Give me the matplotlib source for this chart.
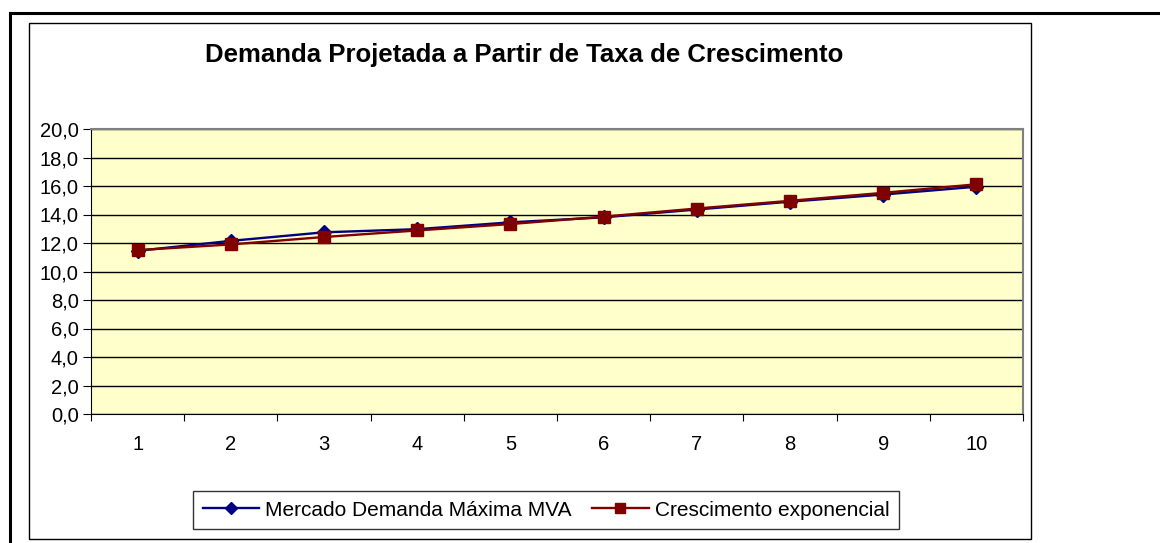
import matplotlib.pyplot as plt
from matplotlib.patches import Rectangle
from matplotlib.lines import Line2D

plt.rcParams['font.family'] = ['Liberation Sans', 'DejaVu Sans']

# data
periodos = [1, 2, 3, 4, 5, 6, 7, 8, 9, 10]
mercado_mva = [11.45, 12.15, 12.75, 12.97, 13.45, 13.8, 14.35, 14.9, 15.4, 15.95]
cresc_exp = [11.5, 11.9, 12.42, 12.88, 13.33, 13.85, 14.42, 14.96, 15.52, 16.12]
y_ticks = [0, 2, 4, 6, 8, 10, 12, 14, 16, 18, 20]

W, H = 1160, 543
fig = plt.figure(figsize=(W / 100, H / 100), dpi=100)

# outer frame (thick) and chart area frame
fig.add_artist(Line2D([10 / W, 1], [1 - 13 / H, 1 - 13 / H], color='black', lw=2.2))
fig.add_artist(Line2D([10 / W, 10 / W], [0, 1 - 13 / H], color='black', lw=2.2))
fig.add_artist(Rectangle((29 / W, 1 - 539 / H), (1031 - 29) / W, (539 - 23) / H,
                         fill=False, edgecolor='black', lw=1.0))

ax = fig.add_axes([91 / W, 1 - 414 / H, (1023 - 91) / W, (414 - 129) / H])
ax.set_facecolor('#FFFFCC')

ax.plot(periodos, mercado_mva, color='#000080', lw=1.7, marker='D', markersize=7.2,
        label='Mercado Demanda Máxima MVA', zorder=3)
ax.plot(periodos, cresc_exp, color='#800000', lw=1.7, marker='s', markersize=8.3,
        label='Crescimento exponencial', zorder=4)

ax.set_ylim(0, 20)
ax.set_yticks(y_ticks)
ax.set_yticklabels([f'{v:.1f}'.replace('.', ',') for v in y_ticks])
ax.yaxis.grid(True, color='black', lw=1.0)
ax.set_axisbelow(True)

ax.set_xlim(0.5, 10.5)
ax.set_xticks([p + 0.5 for p in range(0, 11)])
ax.set_xticklabels([])
ax.set_xticks(periodos, minor=True)
ax.set_xticklabels([str(p) for p in periodos], minor=True)
ax.tick_params(axis='x', which='minor', length=0, pad=15, labelsize=14.5)
ax.tick_params(axis='x', which='major', length=5, direction='out', color='black')
ax.tick_params(axis='y', length=6, direction='out', labelsize=14.5, pad=3)

for s in ['top', 'right']:
    ax.spines[s].set_color('#808080')
    ax.spines[s].set_linewidth(1.5)
ax.spines['left'].set_color('black')
ax.spines['bottom'].set_color('black')

fig.text(524 / W, 1 - 55 / H, 'Demanda Projetada a Partir de Taxa de Crescimento',
         ha='center', va='center', fontsize=18.5, fontweight='bold')

leg = fig.legend(loc='center', bbox_to_anchor=(546 / W, 1 - 510 / H), ncol=2,
                 fontsize=15, frameon=True, fancybox=False, edgecolor='black',
                 handlelength=2.7, columnspacing=1.0, handletextpad=0.3,
                 borderpad=0.45, borderaxespad=0, markerscale=0.9)
leg.get_frame().set_linewidth(1.0)

fig.savefig('out.png', dpi=100)
